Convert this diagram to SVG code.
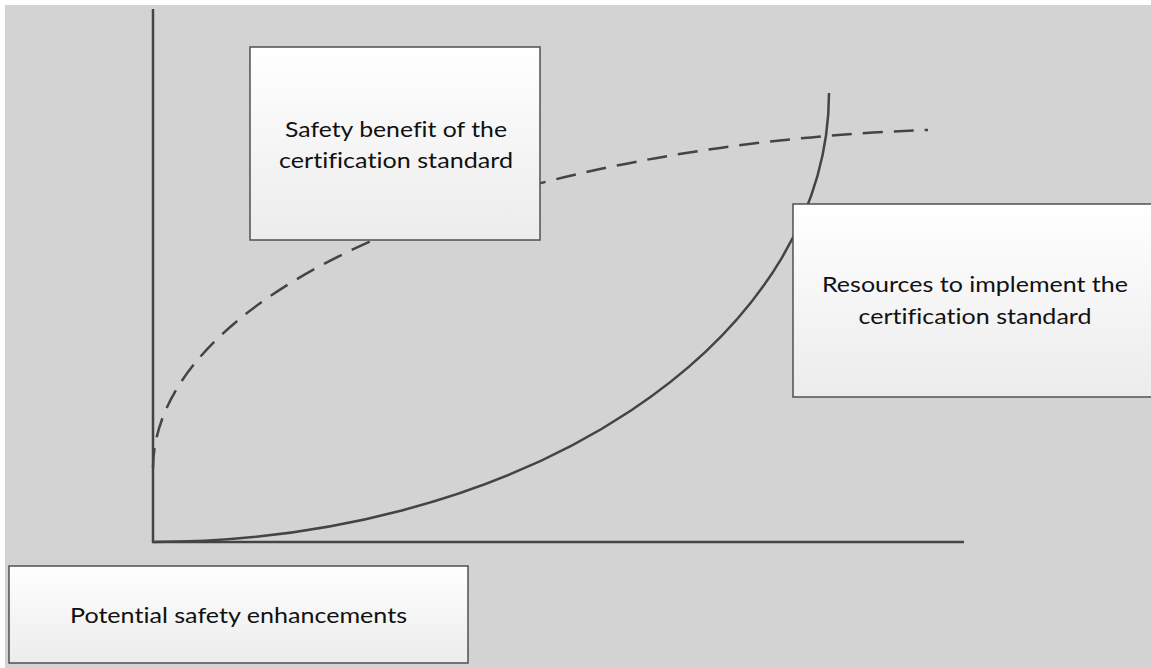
<svg xmlns="http://www.w3.org/2000/svg" width="1151" height="668" viewBox="0 0 1151 668">
<defs>
<linearGradient id="boxfill" x1="0" y1="0" x2="0" y2="1">
<stop offset="0" stop-color="#ffffff"/>
<stop offset="1" stop-color="#ececec"/>
</linearGradient>
</defs>
<style>
.box{fill:url(#boxfill);stroke:#505050;stroke-width:1.5}
.lbl{font-family:Lato,"Liberation Sans",Arial,sans-serif;font-size:22px;fill:#111;text-anchor:middle;font-variant-ligatures:none}
.axis{stroke:#444;stroke-width:2.5;fill:none}
.solid{stroke:#444;stroke-width:2.5;fill:none}
.dash{stroke:#444;stroke-width:2.5;fill:none;stroke-dasharray:20 11}
</style>
<rect x="0" y="0" width="1151" height="668" fill="#ffffff"/>
<rect x="5" y="5" width="1146" height="663" fill="#d3d3d3"/>
<g id="connectors">
<line class="axis" x1="153" y1="9" x2="153" y2="543"/>
<line class="axis" x1="152" y1="542" x2="964" y2="542"/>
<path class="solid" d="M153,542 A676,449 0 0 0 829,93"/>
<path class="dash" d="M153,468 A847,340 0 0 1 928,130"/>
</g>
<g id="node-benefit">
<rect class="box" x="250" y="47" width="290" height="193"/>
<text class="lbl" x="396" y="137" textLength="222" lengthAdjust="spacingAndGlyphs">Safety benefit of the</text>
<text class="lbl" x="396" y="168" textLength="234" lengthAdjust="spacingAndGlyphs">certification standard</text>
</g>
<g id="node-resources">
<rect class="box" x="793" y="204" width="370" height="193"/>
<text class="lbl" x="975" y="292" textLength="306" lengthAdjust="spacingAndGlyphs">Resources to implement the</text>
<text class="lbl" x="975" y="324" textLength="233" lengthAdjust="spacingAndGlyphs">certification standard</text>
</g>
<g id="node-potential">
<rect class="box" x="9" y="566" width="459" height="97"/>
<text class="lbl" x="238.5" y="623" textLength="337" lengthAdjust="spacingAndGlyphs">Potential safety enhancements</text>
</g>
</svg>
